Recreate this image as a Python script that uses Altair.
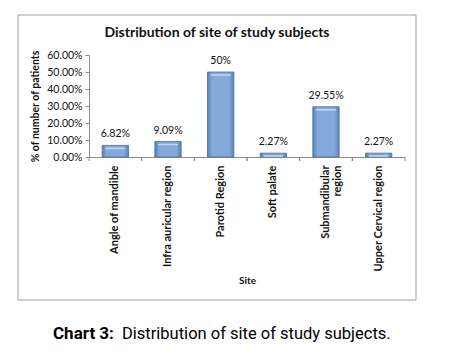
import altair as alt
import pandas as pd

sites = ["Angle  of mandible", "Infra auricular region", "Parotid Region",
         "Soft palate", "Submandibular region", "Upper Cervical region"]
pct = [6.82, 9.09, 50.0, 2.27, 29.55, 2.27]
labels = ["6.82%", "9.09%", "50%", "2.27%", "29.55%", "2.27%"]
y_ticks = [0, 10, 20, 30, 40, 50, 60]

chart_title = "Distribution of site of study subjects"
caption_bold = "Chart 3:"
caption_rest = "Distribution of site of study subjects."

df = pd.DataFrame({"site": sites, "pct": pct, "label": labels})

FONT = "Lato"
W, H = 316, 102
STEP = W / len(sites)
x_scale = alt.Scale(domain=sites, paddingInner=0.5, paddingOuter=0.25)
y_scale = alt.Scale(domain=[0, 60])

x_axis = alt.Axis(title="Site", labelAngle=270, labelFont=FONT,
                  labelFontWeight="bold", labelFontSize=11,
                  labelColor="#111", labelPadding=8, ticks=False,
                  domainColor="#8C8C8C", titleFont=FONT,
                  titleFontSize=10, titleFontWeight="bold",
                  titleColor="#111", titleY=118,
                  labelExpr="datum.value == 'Submandibular region' ? ['Submandibular', 'region'] : datum.value",
                  labelLineHeight=12)
y_axis = alt.Axis(title="% of number of patients", values=y_ticks,
                  labelExpr="format(datum.value, '.2f') + '%'",
                  grid=False, labelFont=FONT, labelFontSize=10.5,
                  labelColor="#111", tickSize=4, tickColor="#8C8C8C",
                  domainColor="#8C8C8C", labelPadding=3,
                  titleFont=FONT, titleFontSize=10.5,
                  titleFontWeight="bold", titleColor="#111",
                  titlePadding=6)

X = alt.X("site:N", scale=x_scale, sort=None, axis=x_axis)
Y = alt.Y("pct:Q", scale=y_scale, axis=y_axis)

grad = alt.Gradient(
    gradient="linear", x1=0, x2=1, y1=0, y2=0,
    stops=[alt.GradientStop(offset=0, color="#5B80B6"),
           alt.GradientStop(offset=0.18, color="#84AADB"),
           alt.GradientStop(offset=0.82, color="#84AADB"),
           alt.GradientStop(offset=1, color="#5B80B6")])

base = alt.Chart(df)

bars = base.mark_bar(color=grad, stroke="#4C6C9C", strokeWidth=0.8).encode(x=X, y=Y)

shine = base.mark_tick(color="#C9DCF2", size=20, thickness=1.5, yOffset=3,
                       opacity=0.9).encode(x=X, y=Y)

text = base.mark_text(font=FONT, fontSize=10.5, color="#111", baseline="bottom",
                      dy=-6).encode(x=X, y=Y, text="label:N")

ticks_a = base.mark_rule(color="#8C8C8C", strokeWidth=1, xOffset=-STEP / 4).encode(
    x=alt.X("site:N", scale=x_scale, sort=None, axis=x_axis, bandPosition=0),
    y=alt.value(H), y2=alt.value(H + 4))
ticks_b = base.mark_rule(color="#8C8C8C", strokeWidth=1, xOffset=STEP / 4).encode(
    x=alt.X("site:N", scale=x_scale, sort=None, axis=x_axis, bandPosition=1),
    y=alt.value(H), y2=alt.value(H + 4))

one = pd.DataFrame({"t": [chart_title], "c1": [caption_bold], "c2": [caption_rest]})
ann = alt.Chart(one)
title_txt = ann.mark_text(font=FONT, fontSize=14, fontWeight="bold",
                          color="#111", align="center", baseline="alphabetic").encode(
    x=alt.value(128), y=alt.value(-18), text="t:N")
cap1 = ann.mark_text(font="Roboto", fontSize=17, fontWeight="bold",
                     color="#000", align="left", baseline="alphabetic").encode(
    x=alt.value(-36), y=alt.value(284), text="c1:N")
cap2 = ann.mark_text(font="Roboto", fontSize=16.5, color="#000", align="left",
                     baseline="alphabetic").encode(
    x=alt.value(33), y=alt.value(284), text="c2:N")
border = ann.mark_rect(fill=None, stroke="#A0A0A0", strokeWidth=1).encode(
    x=alt.value(-71), x2=alt.value(327), y=alt.value(-40), y2=alt.value(245))

chart = alt.layer(border, bars, shine, text, ticks_a, ticks_b,
                  title_txt, cap1, cap2).properties(
    width=W, height=H,
    autosize=alt.AutoSizeParams(type="none"),
    padding={"left": 81, "top": 47, "right": 30, "bottom": 186},
    background="white",
).configure_view(stroke=None)

chart.save("out.html", embed_options={"renderer": "svg", "actions": False})
